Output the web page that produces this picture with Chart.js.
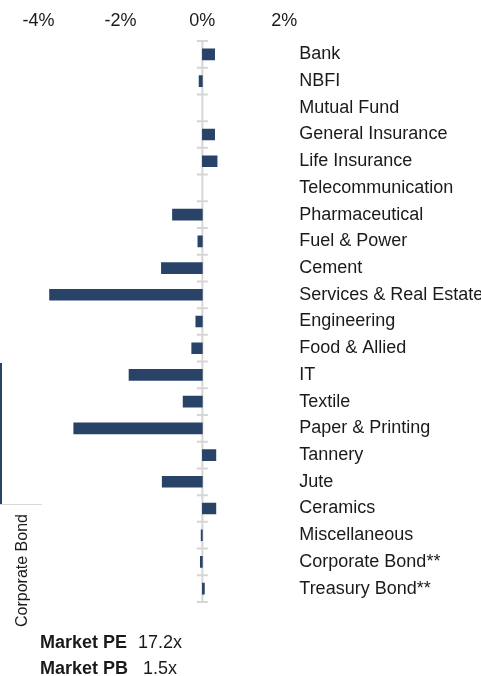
<!DOCTYPE html>
<html lang="en">
<head>
    <meta charset="UTF-8">
    <title>Sector Return</title>
    <script src="https://cdn.jsdelivr.net/npm/chart.js"></script>
    <style>
        body {
            margin: 0;
            padding: 0;
            background: #fff;
            font-family: 'Liberation Sans', Arial, sans-serif;
            color: #1a1a1a;
        }
        .wrap {
            position: relative;
            width: 481px;
            height: 676px;
            overflow: hidden;
        }
        #sectorChart {
            position: absolute;
            left: 0;
            top: 0;
        }
        /* leftover bits of the neighbouring panel */
        .edge-line {
            position: absolute;
            left: 0;
            top: 363px;
            width: 2px;
            height: 141px;
            background: #284268;
        }
        .edge-base {
            position: absolute;
            left: 0;
            top: 504px;
            width: 42px;
            height: 1px;
            background: #d9d9d9;
        }
        .side-clip {
            position: absolute;
            left: 0;
            top: 505px;
            width: 40px;
            height: 122px;
            overflow: hidden;
        }
        .side-label {
            position: absolute;
            left: 14px;
            top: 122px;
            font-size: 16px;
            line-height: 16px;
            white-space: nowrap;
            transform-origin: left top;
            transform: rotate(-90deg);
        }
        .stat {
            position: absolute;
            font-size: 18px;
            line-height: 18px;
            white-space: nowrap;
        }
        .stat b { font-weight: 700; }
    </style>
</head>
<body>
<div class="wrap">
    <canvas id="sectorChart" width="481" height="676"></canvas>
    <div class="edge-line"></div>
    <div class="edge-base"></div>
    <div class="side-clip"><div class="side-label">Corporate Bond</div></div>
    <div class="stat" style="left:40px; top:633px;"><b>Market PE</b></div>
    <div class="stat" style="left:138px; top:633px;">17.2x</div>
    <div class="stat" style="left:40px; top:659px;"><b>Market PB</b></div>
    <div class="stat" style="left:143px; top:659px;">1.5x</div>
</div>

<script>
    // sectors, top to bottom
    const sectors = ['Bank', 'NBFI', 'Mutual Fund', 'General Insurance', 'Life Insurance',
        'Telecommunication', 'Pharmaceutical', 'Fuel & Power', 'Cement', 'Services & Real Estate',
        'Engineering', 'Food & Allied', 'IT', 'Textile', 'Paper & Printing', 'Tannery', 'Jute',
        'Ceramics', 'Miscellaneous', 'Corporate Bond**', 'Treasury Bond**'];

    // weekly change, in percent
    const change = [0.30, -0.08, 0, 0.30, 0.36, 0, -0.73, -0.11, -1.00, -3.73, -0.16, -0.26,
        -1.79, -0.47, -3.14, 0.33, -0.98, 0.33, -0.03, -0.05, 0.05];

    const xTicks = [-4, -2, 0, 2];

    Chart.defaults.font.family = "'Liberation Sans', Arial, sans-serif";
    Chart.defaults.font.size = 18;
    Chart.defaults.color = '#1a1a1a';

    // zero line with small marks between the rows
    const zeroAxis = {
        id: 'zeroAxis',
        beforeDatasetsDraw(chart) {
            const ctx = chart.ctx;
            const area = chart.chartArea;
            const x0 = chart.scales.x.getPixelForValue(0);
            const n = sectors.length;
            const step = (area.bottom - area.top) / n;
            ctx.save();
            ctx.strokeStyle = '#d6d6d6';
            ctx.lineWidth = 2;
            ctx.beginPath();
            ctx.moveTo(x0, area.top);
            ctx.lineTo(x0, area.bottom);
            for (let i = 0; i <= n; i++) {
                const y = area.top + i * step;
                ctx.moveTo(x0 - 5.5, y);
                ctx.lineTo(x0 + 5.5, y);
            }
            ctx.stroke();
            ctx.restore();
        }
    };

    new Chart(document.getElementById('sectorChart'), {
        type: 'bar',
        data: {
            labels: sectors,
            datasets: [{
                // no bar at all where nothing moved
                data: change.map(v => v === 0 ? null : v),
                backgroundColor: '#284268',
                barThickness: 11
            }]
        },
        options: {
            indexAxis: 'y',
            responsive: false,
            animation: false,
            layout: { padding: { left: 18, right: 0, top: 0, bottom: 74 } },
            plugins: {
                legend: { display: false },
                tooltip: { enabled: false }
            },
            scales: {
                x: {
                    position: 'top',
                    min: -4.5,
                    max: 2,
                    grid: { display: false },
                    border: { display: false },
                    afterBuildTicks: s => { s.ticks = xTicks.map(v => ({ value: v })); },
                    afterFit: s => { s.height = 41; },
                    ticks: {
                        padding: 1,
                        autoSkip: false,
                        maxRotation: 0,
                        callback: v => v + '%'
                    }
                },
                y: {
                    position: 'right',
                    grid: { display: false },
                    border: { display: false },
                    afterFit: s => { s.width = 196.7; },
                    ticks: { padding: 7, autoSkip: false }
                }
            }
        },
        plugins: [zeroAxis]
    });
</script>
</body>
</html>
